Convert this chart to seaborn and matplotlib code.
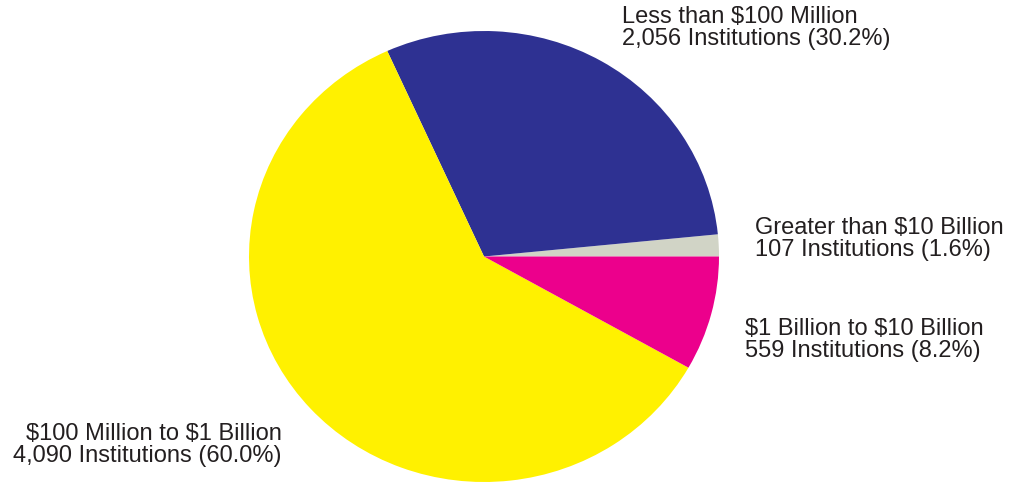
import matplotlib
matplotlib.use("Agg")
import matplotlib.pyplot as plt
import seaborn as sns

# Données : nombre d'institutions par taille d'actifs
categories = ["Greater than $10 Billion", "Less than $100 Million",
              "$100 Million to $1 Billion", "$1 Billion to $10 Billion"]
institutions = [107, 2056, 4090, 559]
pourcentages = [1.6, 30.2, 60.0, 8.2]
couleurs = ["#D1D4C6", "#2E3192", "#FFF100", "#EC008C"]

sns.set_theme(style="white")
plt.rcParams['font.family'] = ['Liberation Sans', 'DejaVu Sans']

fig = plt.figure(figsize=(10.12, 4.83), dpi=100)
W, H = 1012, 483
# axes placé pour que le camembert (légèrement elliptique) tombe au bon endroit
ax = fig.add_axes([249 / W, 1 / H, 470 / W, 451 / H])
ax.pie(institutions, colors=couleurs, startangle=0, counterclock=True,
       wedgeprops=dict(linewidth=0))
ax.set_aspect('auto')
ax.set_xlim(-1, 1)
ax.set_ylim(-1, 1)
ax.axis('off')

# Étiquettes (position en pixels depuis le haut)
positions = {
    "Greater than $10 Billion": (755, 217, 'left'),
    "Less than $100 Million": (622, 6, 'left'),
    "$100 Million to $1 Billion": (282, 423, 'right'),
    "$1 Billion to $10 Billion": (745, 318, 'left'),
}
for cat, n, p in zip(categories, institutions, pourcentages):
    x, y, ha = positions[cat]
    texte = f"{cat}\n{n:,} Institutions ({p:.1f}%)"
    fig.text(x / W, 1 - y / H, texte, ha=ha, va='top', fontsize=17,
             color="#231F20", linespacing=1.0, multialignment=ha,
             parse_math=False)

fig.savefig("out.png", dpi=100, facecolor="white")
